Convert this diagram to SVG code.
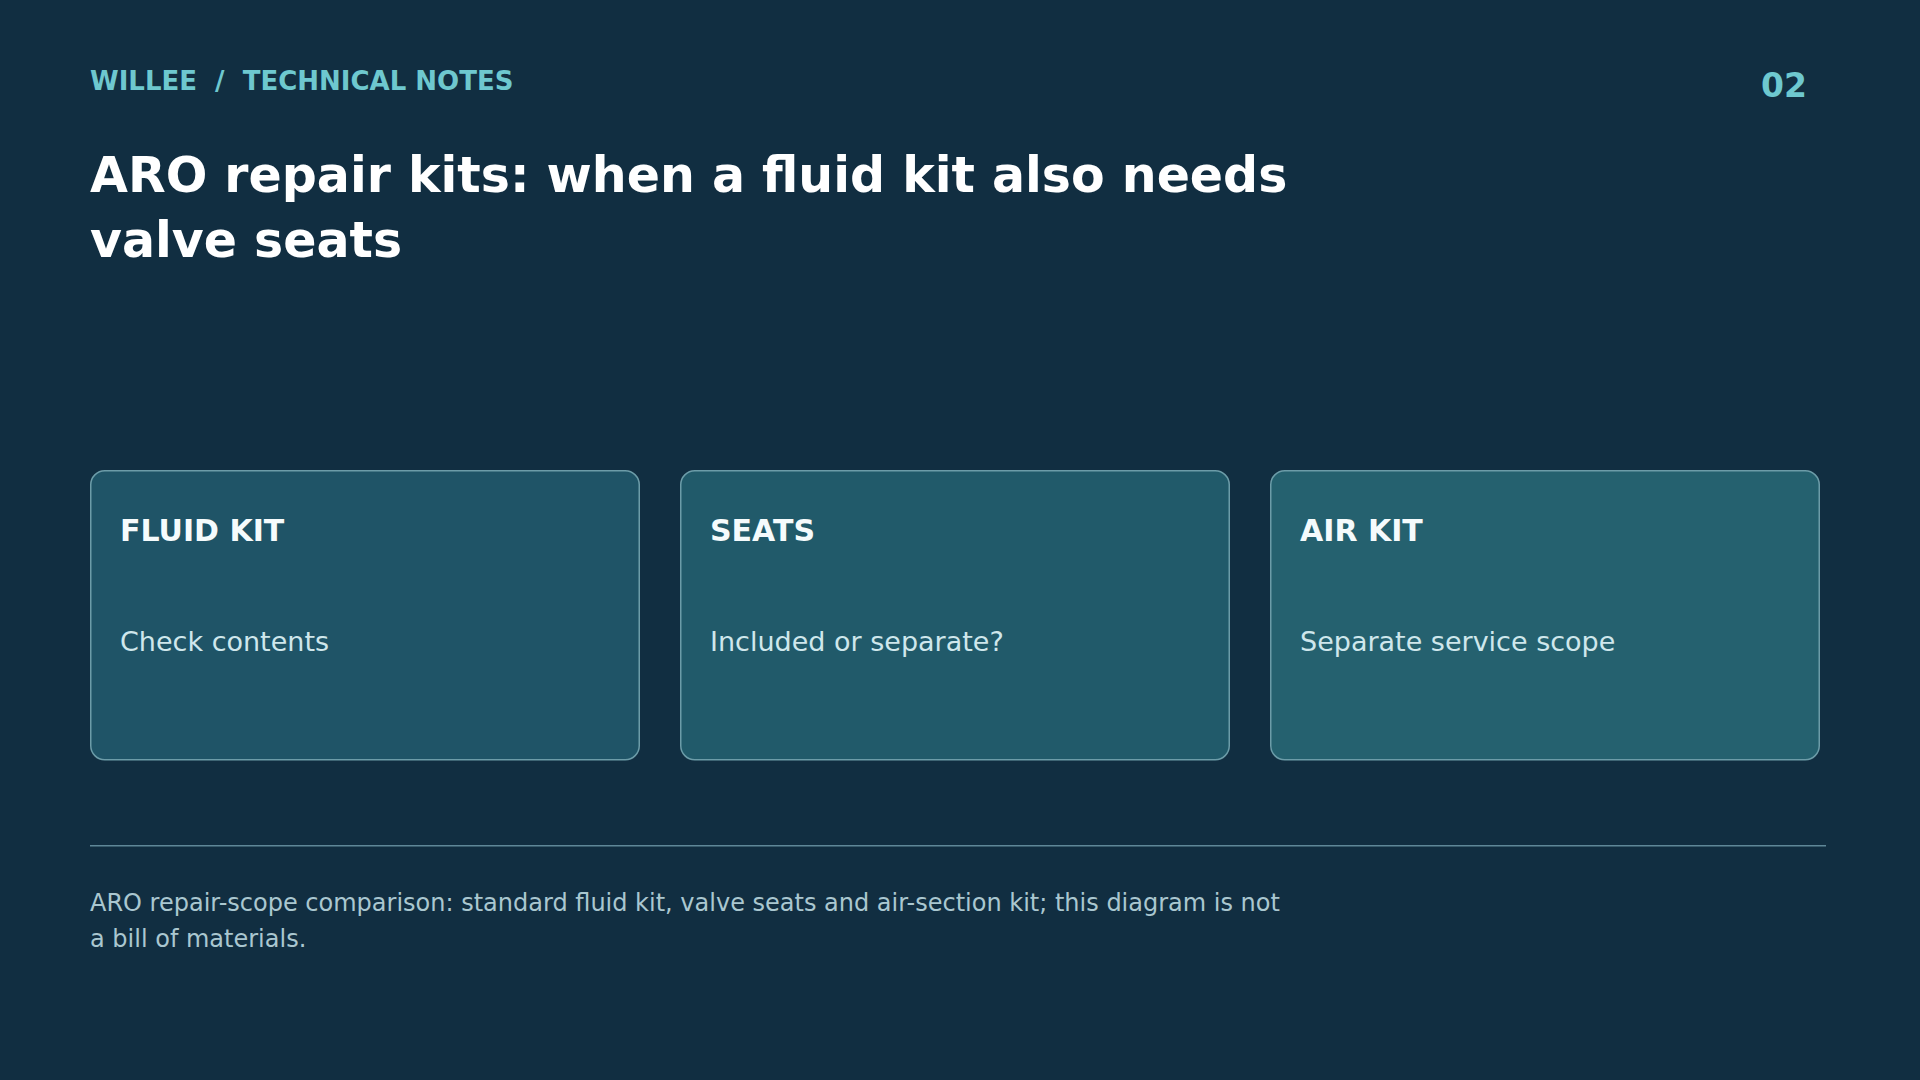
<svg xmlns="http://www.w3.org/2000/svg" width="1920" height="1080" viewBox="0 0 1920 1080">
<style>
text{font-family:"DejaVu Sans","Liberation Sans",sans-serif}
.hdr{font-size:26px;font-weight:bold;fill:#6ec8cf}
.num{font-size:33px;font-weight:bold;fill:#6ec8cf}
.title{font-size:49px;font-weight:bold;fill:#ffffff}
.card{stroke:#6c9ca8;stroke-width:1.5}
.ct{font-size:30px;font-weight:bold;fill:#f5fbfc}
.cb{font-size:27px;fill:#cfe7ec}
.foot{font-size:24px;fill:#aac7d0}
</style>
<rect width="1920" height="1080" fill="#112e41"/>
<text class="hdr" x="90" y="90" xml:space="preserve">WILLEE  /  TECHNICAL NOTES</text>
<text class="num" x="1807" y="97" text-anchor="end">02</text>
<text class="title" x="90" y="192">ARO repair kits: when a fluid kit also needs</text>
<text class="title" x="90" y="257">valve seats</text>
<g id="connectors"></g>
<g id="node-fluid-kit">
<rect class="card" x="90.75" y="470.75" width="548.5" height="289" rx="14" fill="#1f5467"/>
<text class="ct" x="120" y="541">FLUID KIT</text>
<text class="cb" x="120" y="651">Check contents</text>
</g>
<g id="node-seats">
<rect class="card" x="680.75" y="470.75" width="548.5" height="289" rx="14" fill="#215a6a"/>
<text class="ct" x="710" y="541">SEATS</text>
<text class="cb" x="710" y="651">Included or separate?</text>
</g>
<g id="node-air-kit">
<rect class="card" x="1270.75" y="470.75" width="548.5" height="289" rx="14" fill="#25616f"/>
<text class="ct" x="1300" y="541">AIR KIT</text>
<text class="cb" x="1300" y="651">Separate service scope</text>
</g>
<line x1="90" y1="845.75" x2="1826" y2="845.75" stroke="#5f8798" stroke-width="1.5"/>
<text class="foot" x="90" y="911">ARO repair-scope comparison: standard fluid kit, valve seats and air-section kit; this diagram is not</text>
<text class="foot" x="90" y="947">a bill of materials.</text>
</svg>
